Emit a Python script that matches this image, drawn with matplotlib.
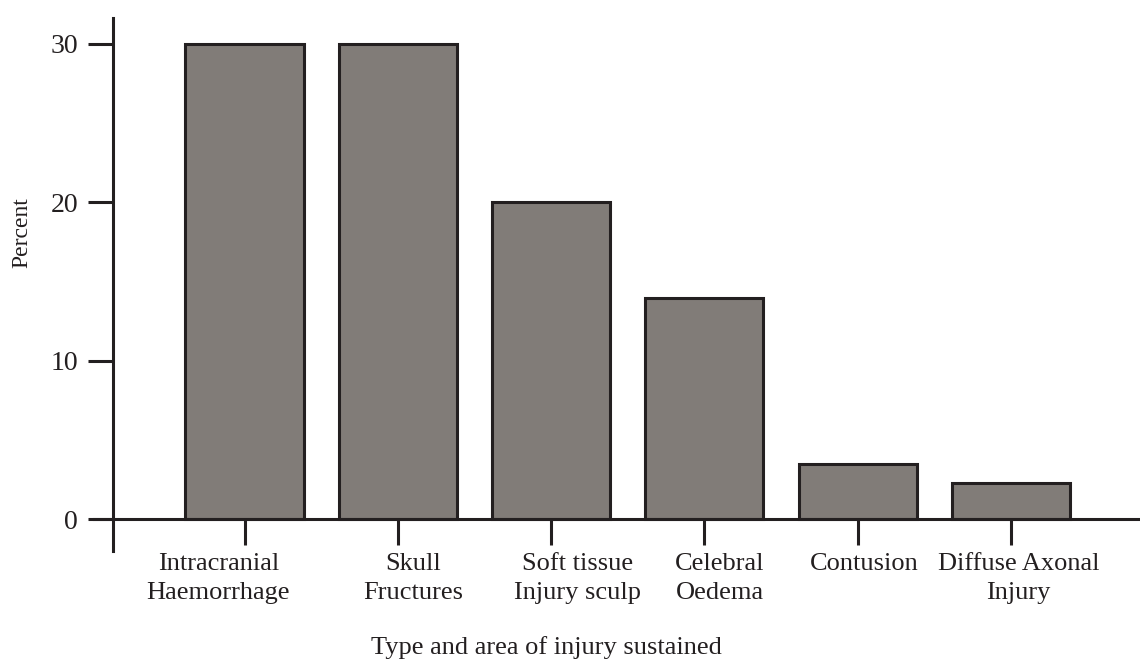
import matplotlib
matplotlib.use("Agg")
import matplotlib.pyplot as plt
import numpy as np

categories = ["Intracranial\nHaemorrhage", "Skull\nFructures", "Soft tissue\nInjury sculp",
              "Celebral\nOedema", "Contusion", "Diffuse Axonal\nInjury"]
percent = [30, 30, 20, 14, 3.5, 2.3]
yticks = [0, 10, 20, 30]

# label offsets (relative to bar centre), style only
label_shift = [-0.17, 0.10, 0.17, 0.10, 0.04, 0.05]

plt.rcParams['font.family'] = ['Liberation Serif', 'DejaVu Serif']
dark = '#231f20'
fill = '#817c78'

fig = plt.figure(figsize=(11.4, 6.61), dpi=100)
ax = fig.add_axes([94/1140, 1 - 551/661, 1046/1140, 533/661])

x = np.arange(len(categories))
ax.bar(x, percent, width=0.77, color=fill, edgecolor=dark, linewidth=2.2, zorder=3)

ax.set_xlim(-0.9817, 5.841)
ax.set_ylim(-1.99, 31.64)

for s in ['top', 'right']:
    ax.spines[s].set_visible(False)
ax.spines['bottom'].set_position(('data', 0))
ax.spines['left'].set_position(('data', -0.858))
for s in ['bottom', 'left']:
    ax.spines[s].set_linewidth(2.2)
    ax.spines[s].set_color(dark)
    ax.spines[s].set_zorder(4)

ax.set_yticks(yticks)
ax.set_yticklabels([str(v) for v in yticks])
ax.tick_params(axis='y', direction='out', length=18, width=2.2, color=dark,
               labelsize=20, labelcolor=dark, pad=7)

# major ticks: marks only; minor ticks: labels only
ax.set_xticks(x)
ax.set_xticklabels([])
ax.set_xticks(x + np.array(label_shift), minor=True)
ax.set_xticklabels(categories, minor=True, fontsize=19, color=dark, linespacing=1.4)
ax.tick_params(axis='x', which='major', direction='out', length=19, width=2.2, color=dark)
ax.tick_params(axis='x', which='minor', length=0, pad=24)

ax.set_xlabel("Type and area of injury sustained", fontsize=19, color=dark, va='center')
ax.xaxis.set_label_coords(0.433, -0.181)
ax.set_ylabel("Percent", fontsize=17, color=dark, va='center', ha='center')
ax.yaxis.set_label_coords(-0.0688, 0.597)

fig.savefig("out.png", dpi=100)
